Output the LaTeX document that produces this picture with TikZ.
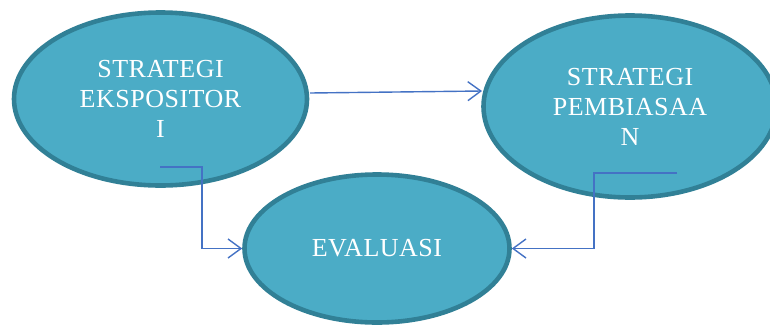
\documentclass[tikz,border=0pt]{standalone}
\usepackage{fontspec}
\setmainfont{Liberation Serif}[LetterSpace=2]
\usetikzlibrary{arrows.meta,shapes.geometric}
\definecolor{ellfill}{RGB}{75,172,198}
\definecolor{ellline}{RGB}{49,128,150}
\definecolor{arrcol}{RGB}{68,114,196}
\begin{document}
\begin{tikzpicture}[x=1pt,y=-1pt,
  ell/.style={ellipse, draw=ellline, fill=ellfill, line width=4.6pt, inner sep=0pt,
    text=white, align=center, font=\fontsize{26}{30}\selectfont},
  arr/.style={draw=arrcol, line width=1.4pt, -{Straight Barb[length=13pt,width=19pt]}}]
\useasboundingbox (0,0) rectangle (770,327);
\node[ell, minimum width=293pt, minimum height=173pt] (L) at (160.5,99) {STRATEGI\\EKSPOSITOR\\I};
\node[ell, minimum width=293pt, minimum height=182pt] (R) at (630,106.5) {STRATEGI\\PEMBIASAA\\N};
\node[ell, minimum width=265pt, minimum height=148pt] (E) at (377,248.5) {EVALUASI};
\coordinate (a1s) at (310,93);
\coordinate (a1e) at (482,91);
\coordinate (a2s) at (160,167);
\coordinate (a3s) at (677,173);
\draw[arr] (a1s) -- (a1e);
\draw[arr] (a2s) -| (202,210) |- (E.west);
\draw[arr] (a3s) -| (594,210) |- (E.east);
\end{tikzpicture}
\end{document}
